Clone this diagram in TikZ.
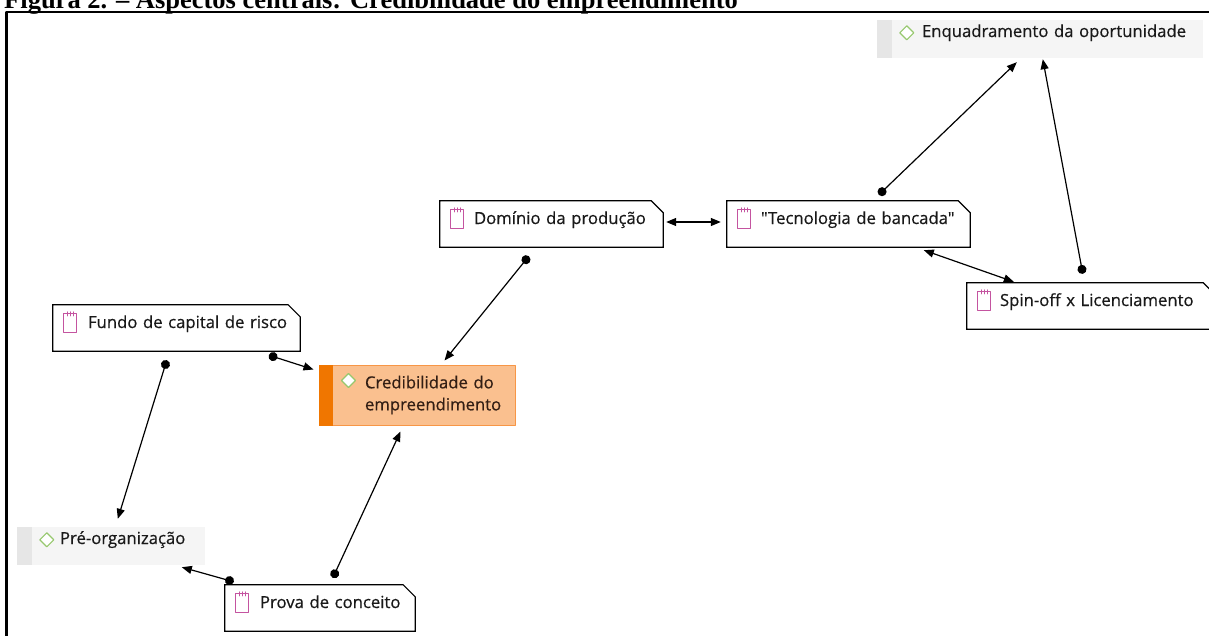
\documentclass[tikz,border=0pt]{standalone}
\usepackage{fontspec}
\setmainfont{Liberation Serif}
\newfontfamily\rotulo[FakeBold=0.5]{Open Sans}
\usetikzlibrary{arrows.meta}
\definecolor{rosa}{RGB}{196,84,160}
\definecolor{verde}{RGB}{150,200,110}
\definecolor{cinza}{RGB}{245,245,245}
\definecolor{cinzafaixa}{RGB}{230,230,230}
\definecolor{laranja}{RGB}{247,150,70}
\definecolor{laranjaclaro}{RGB}{250,192,143}
\definecolor{laranjaescuro}{RGB}{240,118,0}
\definecolor{texto}{RGB}{25,25,25}
\definecolor{marrom}{RGB}{50,30,20}

\begin{document}
\begin{tikzpicture}[line cap=round,line join=round,>={Triangle[length=10pt,width=8pt]},x=1pt,y=-1pt,
    nota/.style={fill=white,inner sep=0pt,minimum height=46pt,text width=#1,align=left,text height=8pt,text depth=8pt,text=texto,font=\rotulo\fontsize{16.7}{22}\selectfont},
    etapa/.style={fill=cinza,inner sep=0pt,minimum height=38pt,text width=#1,align=left,text height=6pt,text depth=10pt,text=texto,font=\rotulo\fontsize{16.7}{22}\selectfont},
    contorno/.style={draw=black,line width=1.2pt,line join=miter},
    caderno/.style={draw=rosa,line width=0.9pt},
    losango/.style={draw=verde,line width=1.1pt,fill=white},
    liga/.style={line width=1.2pt,{Circle[length=9pt]}->},
    duplo/.style={line width=1.2pt,<->}]
      \useasboundingbox (0,0) rectangle (1209,635);
      \clip (0,0) rectangle (1209,635);
      \node[anchor=base west,inner sep=0pt,font=\bfseries\fontsize{26.5}{30}\selectfont] (titulo) at (4,8) {Figura 2. – Aspectos centrais: Credibilidade do empreendimento};
      \draw[line width=2.4pt] (6.5,12) rectangle (1240,660);
      % nos
      \node[etapa=326pt] (enquadramento) at (1040,39) {\hspace*{45pt}Enquadramento da oportunidade};
      \node[nota=223pt] (dominio) at (551.5,224) {\hspace*{34pt}Domínio da produção};
      \node[nota=243pt] (tecnologia) at (848.5,224) {\hspace*{34pt}"Tecnologia de bancada"};
      \node[nota=248pt] (spinoff) at (1091,306) {\hspace*{33pt}Spin-off x Licenciamento};
      \node[nota=247pt] (fundo) at (176.5,328) {\hspace*{35pt}Fundo de capital de risco};
      \node[fill=laranjaclaro,draw=laranja,line width=1pt,inner sep=0pt,minimum height=60pt,text width=196pt,align=left,text=marrom,font=\rotulo\fontsize{16.7}{22}\selectfont] (credibilidade) at (417,395) {\hspace*{46pt}Credibilidade do\\\hspace*{46pt}empreendimento};
      \node[etapa=188pt] (preorganizacao) at (111,546) {\hspace*{43pt}Pré-organização};
      \node[nota=190pt] (prova) at (320,608) {\hspace*{35pt}Prova de conceito};
      % contornos e icones
      \foreach \n in {dominio,tecnologia,spinoff,fundo,prova}{
        \draw[contorno] (\n.south west) -- (\n.north west) -- ([xshift=-12pt]\n.north east) -- ([yshift=-12pt]\n.north east) -- (\n.south east) -- cycle;
        \draw[caderno] ([xshift=11pt,yshift=-9pt]\n.north west) rectangle ([xshift=24pt,yshift=-28pt]\n.north west);
        \foreach \t in {14.5,17.5,20.5}
        \draw[caderno] ([xshift=\t pt,yshift=-7pt]\n.north west) -- ++(0,4);
      }
      \foreach \n in {enquadramento,preorganizacao}{
        \fill[cinzafaixa] (\n.south west) rectangle ([xshift=15pt]\n.north west);
        \draw[losango] ([xshift=30pt,yshift=-13pt]\n.north west) ++(-7,0) -- ++(7,-7) -- ++(7,7) -- ++(-7,7) -- cycle;
      }
      \fill[laranjaescuro] (credibilidade.south west) rectangle ([xshift=14pt]credibilidade.north west);
      \draw[losango] ([xshift=30pt,yshift=-16pt]credibilidade.north west) ++(-7,0) -- ++(7,-7) -- ++(7,7) -- ++(-7,7) -- cycle;
      % ligacoes
      \draw[liga] ([xshift=89pt,yshift=-9pt]dominio.south west) -- ([xshift=126pt,yshift=4pt]credibilidade.north west);
      \draw[duplo] ([xshift=3pt,yshift=2pt]dominio.east) -- ([xshift=-6pt,yshift=2pt]tecnologia.west);
      \draw[liga] ([xshift=152pt,yshift=6pt]tecnologia.north west) -- ([xshift=140pt,yshift=-4pt]enquadramento.south west);
      \draw[liga] ([xshift=116pt,yshift=9pt]spinoff.north west) -- ([xshift=166pt,yshift=-1pt]enquadramento.south west);
      \draw[duplo] ([xshift=197pt,yshift=-3pt]tecnologia.south west) -- ([xshift=47pt,yshift=1pt]spinoff.north west);
      \draw[liga] ([xshift=216pt,yshift=-4pt]fundo.south west) -- ([xshift=-5pt,yshift=-5pt]credibilidade.north west);
      \draw[liga] ([xshift=114pt,yshift=-9pt]fundo.south west) -- ([xshift=101pt,yshift=8pt]preorganizacao.north west);
      \draw[liga] ([xshift=9pt,yshift=3pt]prova.north west) -- ([xshift=165pt,yshift=-2pt]preorganizacao.south west);
      \draw[liga] ([xshift=108pt,yshift=7pt]prova.north west) -- ([xshift=82pt,yshift=-6pt]credibilidade.south west);
\end{tikzpicture}
\end{document}
